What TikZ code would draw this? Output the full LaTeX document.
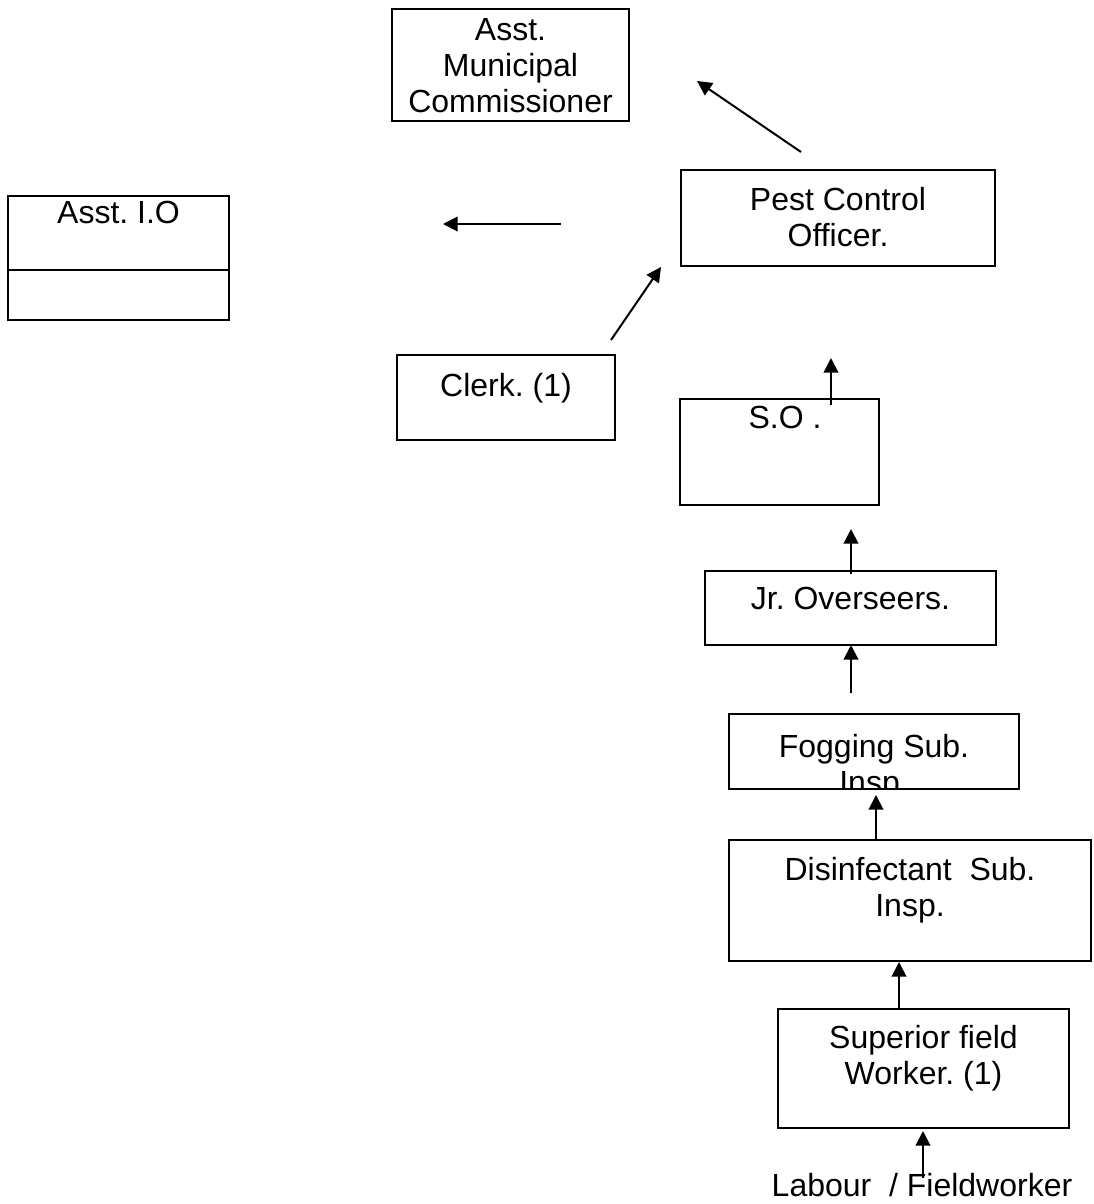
\documentclass[tikz,border=0pt]{standalone}
\usepackage{fontspec}
\setmainfont{Liberation Sans}
\usetikzlibrary{arrows.meta}
\frenchspacing

\tikzset{every picture/.style={line width=1.5pt}}
\tikzset{
  lbl/.style={anchor=north, inner sep=0pt, align=center, font=\fontsize{24}{27}\selectfont},
  conn/.style={-{Triangle[length=11pt,width=11pt]}, line width=1.5pt}
}

\begin{document}
\begin{tikzpicture}[x=0.75pt,y=0.75pt,yscale=-1,xscale=1]
	\useasboundingbox (0,0) rectangle (1094,1204);

	%Shape: Rectangle [Asst. Municipal Commissioner]
	\draw (392,9) rectangle (629,121);
	%Shape: Rectangle [Asst. I.O]
	\draw (8,196) rectangle (229,320);
	\draw (8,270) -- (229,270);
	%Shape: Rectangle [Pest Control Officer]
	\draw (681,170) rectangle (995,266);
	%Shape: Rectangle [Clerk]
	\draw (397,355) rectangle (615,440);
	%Shape: Rectangle [S.O]
	\draw (680,399) rectangle (879,505);
	%Shape: Rectangle [Jr. Overseers]
	\draw (705,571) rectangle (996,645);
	%Shape: Rectangle [Fogging Sub. Insp.]
	\draw (729,714) rectangle (1019,789);
	%Shape: Rectangle [Disinfectant Sub. Insp.]
	\draw (729,840) rectangle (1091,961);
	%Shape: Rectangle [Superior field Worker]
	\draw (778,1009) rectangle (1069,1128);

	% Text Node
	\node [lbl] (amc) at (510.5,17) {Asst.\\Municipal\\Commissioner};
	% Text Node
	\node [lbl] (aio) at (118.5,200) {Asst. I.O};
	% Text Node
	\node [lbl] (pco) at (838,186) {Pest Control\\Officer.};
	% Text Node
	\node [lbl] (clerk) at (506,372) {Clerk. (1)};
	% Text Node
	\node [lbl] (so) at (785,405) {S.O .};
	% Text Node
	\node [lbl] (jro) at (850.5,586) {Jr. Overseers.};
	% Text Node (cut off by its box)
	\begin{scope}
		\clip (729,714) rectangle (1019,789);
		\node [lbl] (fsi) at (874,733) {Fogging Sub.\\Insp.};
	\end{scope}
	% Text Node
	\node [lbl] (dsi) at (910,856) {Disinfectant\ \ Sub.\\Insp.};
	% Text Node
	\node [lbl] (sfw) at (923.5,1024) {Superior field\\Worker. (1)};
	% Text Node
	\node [lbl] (lab) at (922,1172) {Labour\ \ / Fieldworker};

	% arrow ends
	\coordinate (aioT) at (561,224);   \coordinate (aioH) at (443,224);
	\coordinate (amcT) at (801,152);   \coordinate (amcH) at (697,81);
	\coordinate (clerkT) at (611,340); \coordinate (clerkH) at (661,267);
	\coordinate (soT) at (831,405);    \coordinate (soH) at (831,358);
	\coordinate (jroT) at (851,574);   \coordinate (jroH) at (851,529);
	\coordinate (fsiT) at (851,693);   \coordinate (fsiH) at (851,645);
	\coordinate (dsiT) at (876,840);   \coordinate (dsiH) at (876,795);
	\coordinate (sfwT) at (899,1008);  \coordinate (sfwH) at (899,962);
	\coordinate (labT) at (923,1178);  \coordinate (labH) at (923,1131);

	%Arrows
	\foreach \a in {aio,amc,clerk,so,jro,fsi,dsi,sfw,lab}
		\draw [conn] (\a T) -- (\a H);
\end{tikzpicture}
\end{document}
